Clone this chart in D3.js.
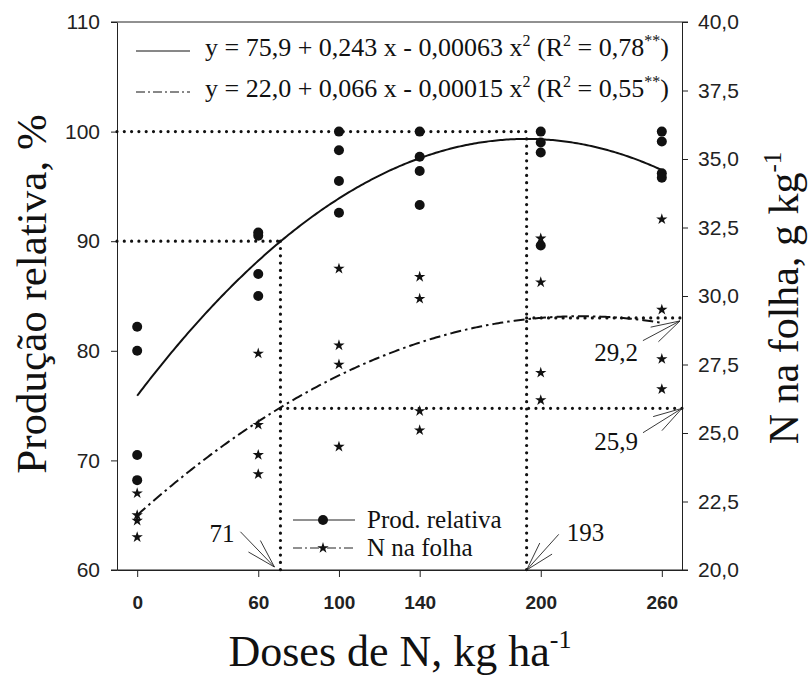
<!DOCTYPE html>
<html>
<head>
<meta charset="utf-8">
<script src="https://cdn.jsdelivr.net/npm/d3@7"></script>
<style>
  html, body { margin: 0; padding: 0; background: #fff; }
  svg { display: block; }
</style>
</head>
<body>
<svg id="chart" width="809" height="678"></svg>
<script>
// N doses applied (kg/ha)
const doses = [0, 60, 100, 140, 200, 260];
// Relative yield (%), four replicates per dose
const prodRelativa = [
  [82.2, 80.0, 70.5, 68.2],
  [90.8, 90.5, 87.0, 85.0],
  [100.0, 98.3, 95.5, 92.6],
  [100.0, 97.7, 96.4, 93.3],
  [100.0, 99.0, 98.1, 89.6],
  [100.0, 99.1, 96.2, 95.8]
];
// Leaf N content (g/kg), four replicates per dose
const nFolha = [
  [22.8, 22.0, 21.8, 21.2],
  [27.9, 25.3, 24.2, 23.5],
  [31.0, 28.2, 27.5, 24.5],
  [30.7, 29.9, 25.8, 25.1],
  [32.1, 30.5, 27.2, 26.2],
  [32.8, 29.5, 27.7, 26.6]
];
// Quadratic fits: b0 + b1 x + b2 x^2
const coefProd = [75.9, 0.243, -0.00063];
const coefN = [22.0, 0.066, -0.00015];
// Tick values
const xTicks = [0, 60, 100, 140, 200, 260];
const yLeftTicks = [60, 70, 80, 90, 100, 110];
const yRightTicks = [20, 22.5, 25, 27.5, 30, 32.5, 35, 37.5, 40];
// Critical doses and levels
const doseCrit = [71, 193];
const prodCrit = [90, 100];
const nCrit = [25.9, 29.2];

const SERIF = '"Liberation Serif"';
const SANS = '"Liberation Sans"';
const serifText = (sel, size) => sel.style("font-family", SERIF).style("font-size", size + "px").attr("fill", "#111");

const svg = d3.select("#chart");
const L = 117, R = 682, T = 22, B = 570;

const x = d3.scaleLinear().domain([-10, 270]).range([L, R]);
const yL = d3.scaleLinear().domain([60, 110]).range([B, T]);
const yR = d3.scaleLinear().domain([20, 40]).range([B, T]);

const quad = c => v => c[0] + c[1] * v + c[2] * v * v;
const fProd = quad(coefProd);
const fN = quad(coefN);
const comma = v => String(v).replace(".", ",");

// Axes
const axL = svg.append("g").attr("transform", `translate(${L},0)`)
  .call(d3.axisLeft(yL).tickValues(yLeftTicks).tickSize(6).tickSizeOuter(0).tickPadding(11).tickFormat(d3.format("d")));
const axR = svg.append("g").attr("transform", `translate(${R},0)`)
  .call(d3.axisRight(yR).tickValues(yRightTicks).tickSize(6).tickSizeOuter(0).tickPadding(10)
    .tickFormat(d => comma(d3.format(".1f")(d))));
const axB = svg.append("g").attr("transform", `translate(0,${B})`)
  .call(d3.axisBottom(x).tickValues(xTicks).tickSize(7).tickSizeOuter(0).tickPadding(19).tickFormat(d3.format("d")));

[axL, axR, axB].forEach(a => {
  a.attr("font-family", null).attr("font-size", null);
  a.selectAll(".domain, .tick line").attr("stroke", "#222").attr("stroke-width", 1);
  a.selectAll("text").attr("fill", "#222").style("font-family", SANS).style("font-size", "21px");
});
axB.selectAll("text").style("font-weight", "bold").style("font-size", "19px");
// bottom and top frame lines
svg.append("line").attr("x1", L - 6).attr("x2", R + 6).attr("y1", B).attr("y2", B).attr("stroke", "#222");
svg.append("line").attr("x1", L - 6).attr("x2", R + 6).attr("y1", T).attr("y2", T).attr("stroke", "#222");

// Dotted reference lines
const dotted = g => g.attr("stroke", "#111").attr("stroke-width", 3.2)
  .attr("stroke-linecap", "round").attr("stroke-dasharray", "0 7.3").attr("fill", "none");
const ref = svg.append("g");
const seg = (x1, y1, x2, y2) => ref.append("line").attr("x1", x1).attr("y1", y1).attr("x2", x2).attr("y2", y2).call(dotted);
seg(x(-10), yL(prodCrit[1]), x(doseCrit[1]), yL(prodCrit[1]));
seg(x(-10), yL(prodCrit[0]), x(doseCrit[0]), yL(prodCrit[0]));
seg(x(doseCrit[0]), yL(prodCrit[0]), x(doseCrit[0]), B);
seg(x(doseCrit[1]), yL(fProd(doseCrit[1])), x(doseCrit[1]), B);
seg(x(doseCrit[0]), yR(nCrit[0]), R, yR(nCrit[0]));
seg(x(doseCrit[1]), yR(nCrit[1]), R, yR(nCrit[1]));

// Fitted curves
const xs = d3.range(0, 260.5, 1);
svg.append("path")
  .attr("d", d3.line().x(d => x(d)).y(d => yL(fProd(d)))(xs))
  .attr("fill", "none").attr("stroke", "#111").attr("stroke-width", 2);
svg.append("path")
  .attr("d", d3.line().x(d => x(d)).y(d => yR(fN(d)))(xs))
  .attr("fill", "none").attr("stroke", "#111").attr("stroke-width", 2)
  .attr("stroke-dasharray", "11,4,2.5,4");

// Points
const star = d3.symbol().type(d3.symbolStar).size(40);
doses.forEach((d, i) => {
  prodRelativa[i].forEach(v => {
    svg.append("circle").attr("cx", x(d)).attr("cy", yL(v)).attr("r", 5).attr("fill", "#111");
  });
  nFolha[i].forEach(v => {
    svg.append("path").attr("d", star()).attr("transform", `translate(${x(d)},${yR(v)})`).attr("fill", "#111");
  });
});

// Arrow annotations
function arrow(tx, ty, angDeg, len, label, anchor, lx, ly) {
  const g = svg.append("g").attr("stroke", "#222").attr("stroke-width", 0.9).attr("fill", "none");
  const a = angDeg * Math.PI / 180;
  const ex = tx + len * Math.cos(a), ey = ty + len * Math.sin(a);
  g.append("line").attr("x1", tx).attr("y1", ty).attr("x2", ex).attr("y2", ey);
  [-16, 16].forEach(o => {
    const b = (angDeg + o) * Math.PI / 180;
    g.append("line").attr("x1", tx).attr("y1", ty)
      .attr("x2", tx + 30 * Math.cos(b)).attr("y2", ty + 30 * Math.sin(b));
  });
  svg.append("text").attr("x", ex + lx).attr("y", ey + ly).attr("text-anchor", anchor)
    .call(serifText, 25).text(label);
}
arrow(x(doseCrit[0]) - 6, B - 3, -134, 49, String(doseCrit[0]), "end", -6, 10);
arrow(x(doseCrit[1]), B, -48, 48, String(doseCrit[1]), "start", 8, 7);
arrow(R - 2, yR(nCrit[1]) + 3, 152, 42, comma(nCrit[1]), "end", -5, 20);
arrow(R, yR(nCrit[0]), 148, 46, comma(nCrit[0]), "end", -5, 17);

// Equation legend
function eqText(g, xPos, yPos, c, r2) {
  const t = g.append("text").attr("x", xPos).attr("y", yPos).call(serifText, 26);
  const sup = s => t.append("tspan").attr("dy", -10).style("font-size", "16px").text(s);
  const base = s => t.append("tspan").attr("dy", 10).text(s);
  t.append("tspan").text(`y = ${comma(c[0].toFixed(1))} + ${comma(c[1])} x - ${comma(Math.abs(c[2]).toFixed(5))} x`);
  sup("2"); base(" (R"); sup("2"); base(` = ${comma(r2.toFixed(2))}`); sup("**"); base(")");
}
const leg = svg.append("g");
leg.append("line").attr("x1", 136).attr("x2", 190).attr("y1", 51).attr("y2", 51).attr("stroke", "#111").attr("stroke-width", 1);
leg.append("line").attr("x1", 136).attr("x2", 190).attr("y1", 92).attr("y2", 92).attr("stroke", "#111").attr("stroke-width", 1)
  .attr("stroke-dasharray", "9,3,2,3");
eqText(leg, 205, 56, coefProd, 0.78);
eqText(leg, 205, 97, coefN, 0.55);

// Series legend
const sl = svg.append("g");
sl.append("line").attr("x1", 293).attr("x2", 355).attr("y1", 520).attr("y2", 520).attr("stroke", "#222").attr("stroke-width", 1);
sl.append("circle").attr("cx", 323).attr("cy", 520).attr("r", 5).attr("fill", "#111");
sl.append("line").attr("x1", 293).attr("x2", 355).attr("y1", 548).attr("y2", 548).attr("stroke", "#222").attr("stroke-width", 1)
  .attr("stroke-dasharray", "9,3,2,3");
sl.append("path").attr("d", star()).attr("transform", "translate(323,548)").attr("fill", "#111");
sl.append("text").attr("x", 367).attr("y", 528).call(serifText, 25).text("Prod. relativa");
sl.append("text").attr("x", 367).attr("y", 556).call(serifText, 25).text("N na folha");

// Axis titles
svg.append("text").attr("transform", "translate(46,294) rotate(-90)").attr("text-anchor", "middle")
  .call(serifText, 43).text("Produção relativa, %");
const rt = svg.append("text").attr("transform", "translate(798,298) rotate(-90)").attr("text-anchor", "middle")
  .call(serifText, 42);
rt.append("tspan").text("N na folha, g kg");
rt.append("tspan").attr("dy", -17).style("font-size", "25px").text("-1");
const bt = svg.append("text").attr("x", 400).attr("y", 666).attr("text-anchor", "middle").call(serifText, 44);
bt.append("tspan").text("Doses de N, kg ha");
bt.append("tspan").attr("dy", -18).style("font-size", "26px").text("-1");
</script>
</body>
</html>
